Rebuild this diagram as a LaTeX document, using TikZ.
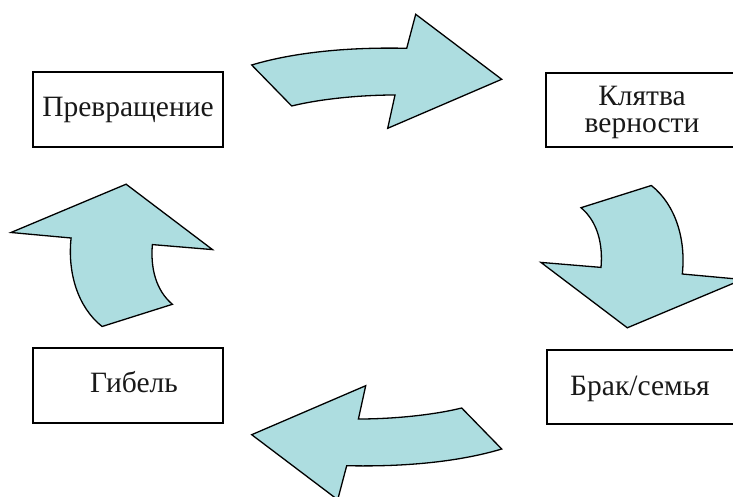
\documentclass[tikz,border=0pt]{standalone}
\usepackage{fontspec}
\setmainfont{Liberation Serif}
\definecolor{arrowfill}{RGB}{173,221,224}
\begin{document}
\begin{tikzpicture}[x=1pt,y=-1pt,
  box/.style={draw=black,line width=2pt,fill=white,inner sep=0pt},
  lbl/.style={font=\fontsize{29.5}{27}\selectfont,align=center,text=black!90},
  bigarrow/.style={draw=black,line width=1.3pt,fill=arrowfill,line join=miter}]
\useasboundingbox (0,0) rectangle (733,497);
\clip (0,0) rectangle (733,497);
% boxes
\node[box,minimum width=190pt,minimum height=75pt] (prev) at (128,109.5) {};
\node[box,minimum width=192pt,minimum height=74pt] (klyatva) at (642,110) {};
\node[box,minimum width=192pt,minimum height=74pt] (brak) at (643,387) {};
\node[box,minimum width=190pt,minimum height=75pt] (gibel) at (128,385.5) {};
% labels
\node[lbl,anchor=base] (tprev) at (128,117) {Превращение};
\node[lbl,anchor=center] (tklyatva) at (642,112) {Клятва\\верности};
\node[lbl,anchor=base] (tbrak) at (640,395) {Брак/семья};
\node[lbl,anchor=base] (tgibel) at (134,392) {Гибель};
% top arrow
\path[bigarrow] (291.7,106) .. controls (320,99) and (360,95) .. (395,95)
  -- (387.7,128.3) -- (501.7,79.3) -- (415.7,14.3) -- (406.7,48.3)
  .. controls (350,47) and (295,52) .. (251.7,65) -- cycle;
% bottom arrow (top arrow turned round)
\begin{scope}[rotate around={180:(376.7,257)}]
\path[bigarrow] (291.7,106) .. controls (320,99) and (360,95) .. (395,95)
  -- (387.7,128.3) -- (501.7,79.3) -- (415.7,14.3) -- (406.7,48.3)
  .. controls (350,47) and (295,52) .. (251.7,65) -- cycle;
\end{scope}
% right arrow
\path[bigarrow] (601,267.4) .. controls (603,245) and (598,222) .. (581,207.7)
  -- (651.3,185.5) .. controls (676,205) and (686,240) .. (682.3,274)
  -- (742.4,279.5) -- (627.3,327.8) -- (540.9,262.4) -- cycle;
% left arrow (right arrow turned round)
\begin{scope}[rotate around={180:(376.7,256)}]
\path[bigarrow] (601,267.4) .. controls (603,245) and (598,222) .. (581,207.7)
  -- (651.3,185.5) .. controls (676,205) and (686,240) .. (682.3,274)
  -- (742.4,279.5) -- (627.3,327.8) -- (540.9,262.4) -- cycle;
\end{scope}
\end{tikzpicture}
\end{document}
